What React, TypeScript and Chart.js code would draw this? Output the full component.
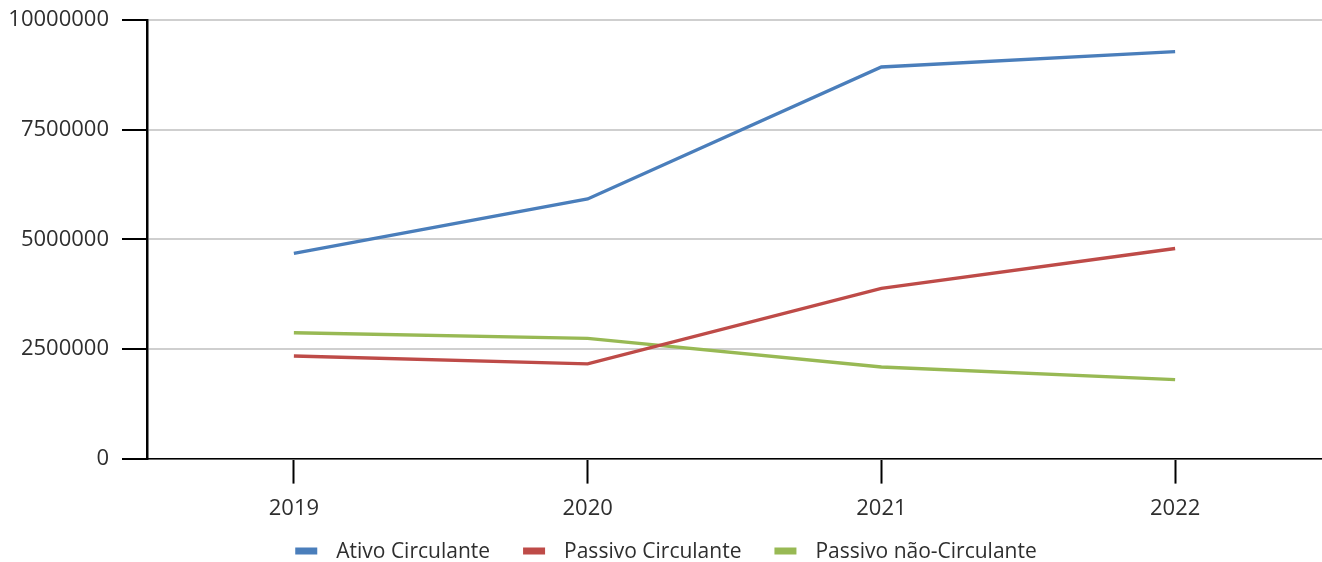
import React, { useEffect, useRef } from "react";
import { Chart, registerables } from "chart.js";

Chart.register(...registerables);

// Balance sheet figures per year
const years = ["2019", "2020", "2021", "2022"];
const ativoCirculante = [4680000, 5920000, 8930000, 9280000];
const passivoCirculante = [2340000, 2160000, 3880000, 4790000];
const passivoNaoCirculante = [2870000, 2740000, 2090000, 1800000];
const seriesNames = ["Ativo Circulante", "Passivo Circulante", "Passivo não-Circulante"];
const seriesColors = ["#4a7ebb", "#be4b48", "#98b954"];

const yMin = 0;
const yMax = 10000000;
const yStep = 2500000;

const FONT = '"Open Sans", "Noto Sans", sans-serif';
const TEXT = "#2e2e2e";

// Legend row drawn under the x axis: short colour bar, gap, label
const bottomLegend = {
  id: "bottomLegend",
  afterDraw(chart: any) {
    const ctx = chart.ctx as CanvasRenderingContext2D;
    const boxW = 22;
    const boxH = 7;
    const textGap = 19;
    const itemGap = 33;
    const cy = 551;
    ctx.save();
    ctx.font = `21px ${FONT}`;
    ctx.textBaseline = "middle";
    ctx.textAlign = "left";
    const items = chart.data.datasets.map((ds: any) => ({
      label: ds.label as string,
      color: ds.borderColor as string,
      w: ctx.measureText(ds.label).width,
    }));
    const total =
      items.reduce((s: number, it: any) => s + boxW + textGap + it.w, 0) +
      itemGap * (items.length - 1);
    let x = chart.width / 2 + 5 - total / 2;
    for (const it of items) {
      ctx.fillStyle = it.color;
      ctx.fillRect(x, cy - boxH / 2, boxW, boxH);
      x += boxW + textGap;
      ctx.fillStyle = TEXT;
      ctx.fillText(it.label, x, cy + 1);
      x += it.w + itemGap;
    }
    ctx.restore();
  },
};

export default function App() {
  const canvasRef = useRef<HTMLCanvasElement | null>(null);

  useEffect(() => {
    document.body.style.margin = "0";
    const canvas = canvasRef.current;
    if (!canvas) return;
    const seriesData = [ativoCirculante, passivoCirculante, passivoNaoCirculante];
    const chart = new Chart(canvas, {
      type: "line",
      data: {
        labels: years,
        datasets: seriesData.map((values, i) => ({
          label: seriesNames[i],
          data: values,
          borderColor: seriesColors[i],
          backgroundColor: seriesColors[i],
          borderWidth: 3.4,
          pointRadius: 0,
          pointHoverRadius: 0,
          tension: 0,
          fill: false,
        })),
      },
      options: {
        responsive: false,
        animation: false,
        layout: {
          padding: { left: 0, right: 0, top: 0, bottom: 28 },
        },
        plugins: {
          legend: { display: false },
          tooltip: { enabled: false },
        },
        scales: {
          x: {
            type: "category",
            offset: true,
            grid: {
              display: true,
              drawOnChartArea: false,
              drawTicks: true,
              tickLength: 25,
              tickColor: "#000000",
              tickWidth: 2,
              offset: false,
            },
            border: { display: true, color: "#000000", width: 1.5 },
            ticks: {
              color: TEXT,
              font: { family: FONT, size: 22 },
              padding: 12,
              maxRotation: 0,
            },
          },
          y: {
            type: "linear",
            min: yMin,
            max: yMax,
            afterFit: (scale: any) => {
              scale.width = 147;
              scale.paddingTop = 20;
              scale.paddingBottom = 0;
            },
            ticks: {
              stepSize: yStep,
              color: TEXT,
              font: { family: FONT, size: 22 },
              padding: 13,
              callback: (v: any) => String(v),
            },
            grid: {
              color: "#cfcfcf",
              lineWidth: 2,
              tickLength: 25,
              tickColor: "#000000",
              tickWidth: 2,
            },
            border: { display: true, color: "#000000", width: 2.5 },
          },
        },
      },
      plugins: [bottomLegend],
    });
    return () => chart.destroy();
  }, []);

  return (
    <div style={{ position: "absolute", left: 0, top: 0, width: 1322, height: 562, background: "#ffffff" }}>
      <canvas ref={canvasRef} width={1322} height={562} style={{ display: "block" }} />
    </div>
  );
}
